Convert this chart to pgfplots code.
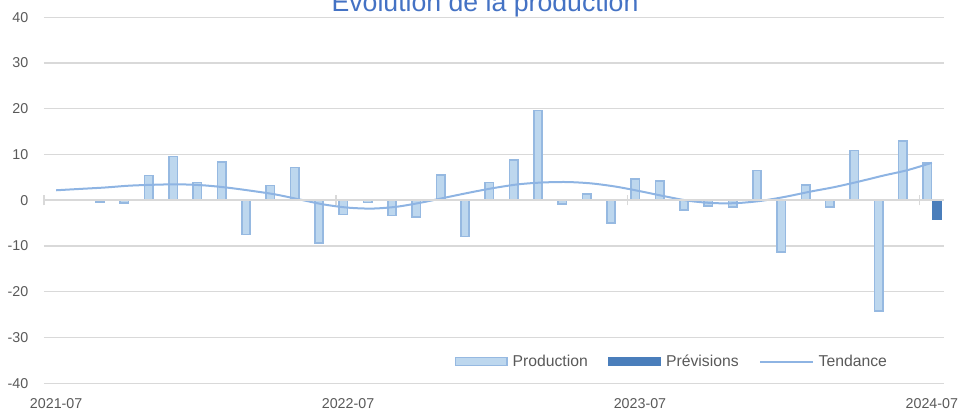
\documentclass[border=0pt]{standalone}
\usepackage{fontspec}
\setmainfont{Liberation Sans}
\usepackage{pgfplots}
\pgfplotsset{compat=1.18}
\definecolor{prodfill}{HTML}{BDD7EE}
\definecolor{prodedge}{HTML}{96B9E1}
\definecolor{prevfill}{HTML}{4A7EBB}
\definecolor{trendcol}{HTML}{8EB4E3}
\definecolor{gridgray}{HTML}{D9D9D9}
\definecolor{labelgray}{HTML}{595959}
\definecolor{titleblue}{HTML}{4472C4}
\begin{document}
\begin{tikzpicture}
\begin{axis}[
  at={(0,0)}, anchor=south west, scale only axis,
  width=675pt, height=274.5pt,
  xmin=-0.5, xmax=36.5, ymin=-40, ymax=40,
  axis line style={draw=none},
  major tick length=0pt,
  ytick={-40,-30,-20,-10,0,10,20,30,40},
  yticklabels={-40,-30,-20,-10,0,10,20,30,40},
  xtick={0,12,24,36},
  xticklabels={2021-07,2022-07,2023-07,2024-07},
  ymajorgrids, grid style={line width=1pt, color=gridgray},
  tick label style={font=\fontsize{10.7}{12}\selectfont, text=labelgray},
  yticklabel style={xshift=-8.3pt},
  xticklabel style={yshift=-7.5pt},
  clip=false,
  legend columns=3,
  legend style={at={(0.6966,0.0596)}, anchor=center, draw=none, fill=none,
    inner sep=0pt, nodes={inner sep=0pt, text=labelgray},
    font=\fontsize{11.8}{14}\selectfont,
    /tikz/every odd column/.append style={column sep=3.75pt},
    /tikz/every even column/.append style={column sep=15.5pt}},
]
% Production
\addplot[ybar, bar width=6.3pt, bar shift=-3.5pt, fill=prodfill, draw=prodedge, line width=1.2pt, forget plot] coordinates {
(0,0.2) (1,0.2) (2,-0.4) (3,-0.6) (4,5.4) (5,9.6) (6,3.9) (7,8.4) (8,-7.5) (9,3.2)
(10,7.2) (11,-9.3) (12,-3.1) (13,-0.5) (14,-3.3) (15,-3.7) (16,5.6) (17,-7.9) (18,3.9) (19,8.8)
(20,19.6) (21,-0.8) (22,1.4) (23,-5.0) (24,4.7) (25,4.2) (26,-2.1) (27,-1.3) (28,-1.5) (29,6.5)
(30,-11.3) (31,3.3) (32,-1.5) (33,10.9) (34,-24.2) (35,13.0) (36,8.1)};
% Previsions
\addplot[ybar, bar width=6.3pt, bar shift=3.7pt, fill=prevfill, draw=prevfill, line width=1.2pt, forget plot] coordinates {(36,-4.1)};
% Tendance
\addplot[smooth, trendcol, line width=1.5pt, forget plot] coordinates {
(0,2.2) (1,2.5) (2,2.8) (3,3.2) (4,3.4) (5,3.5) (6,3.3) (7,2.8) (8,2.1) (9,1.3)
(10,0.2) (11,-0.9) (12,-1.6) (13,-1.8) (14,-1.4) (15,-0.5) (16,0.6) (17,1.7) (18,2.7) (19,3.5)
(20,3.9) (21,4.0) (22,3.7) (23,3.0) (24,2.0) (25,0.9) (26,-0.1) (27,-0.6) (28,-0.6) (29,-0.1)
(30,0.8) (31,1.9) (32,2.9) (33,4.1) (34,5.4) (35,6.6) (36,8.2)};
\addlegendimage{legend image code/.code={\draw[fill=prodfill, draw=prodedge, line width=1.2pt] (0.6pt,-2.9pt) rectangle (38.9pt,2.9pt);}}
\addlegendentry{Production}
\addlegendimage{legend image code/.code={\draw[fill=prevfill, draw=prevfill, line width=1.2pt] (0.6pt,-2.9pt) rectangle (38.9pt,2.9pt);}}
\addlegendentry{Prévisions}
\addlegendimage{legend image code/.code={\draw[trendcol, line width=1.5pt] (0pt,0pt) -- (39.3pt,0pt);}}
\addlegendentry{Tendance}
% horizontal axis line and tick marks
\draw[gridgray, line width=1.5pt] (axis cs:-0.5,0) -- (axis cs:36.5,0);
\draw[gridgray, line width=1pt] (axis cs:-0.5,-1.1) -- (axis cs:-0.5,1.1);
\draw[gridgray, line width=1pt] (axis cs:11.5,-1.1) -- (axis cs:11.5,1.1);
\draw[gridgray, line width=1pt] (axis cs:23.5,-1.1) -- (axis cs:23.5,1.1);
\draw[gridgray, line width=1pt] (axis cs:35.5,-1.1) -- (axis cs:35.5,1.1);
\end{axis}
\node[anchor=base, font=\fontsize{20}{24}\selectfont, text=titleblue, inner sep=0pt] at (330.75pt,278.5pt) {Évolution de la production};
\pgfresetboundingbox
\useasboundingbox (-33pt,-22.3pt) rectangle (686.25pt,287.5pt);
\end{tikzpicture}
\end{document}
